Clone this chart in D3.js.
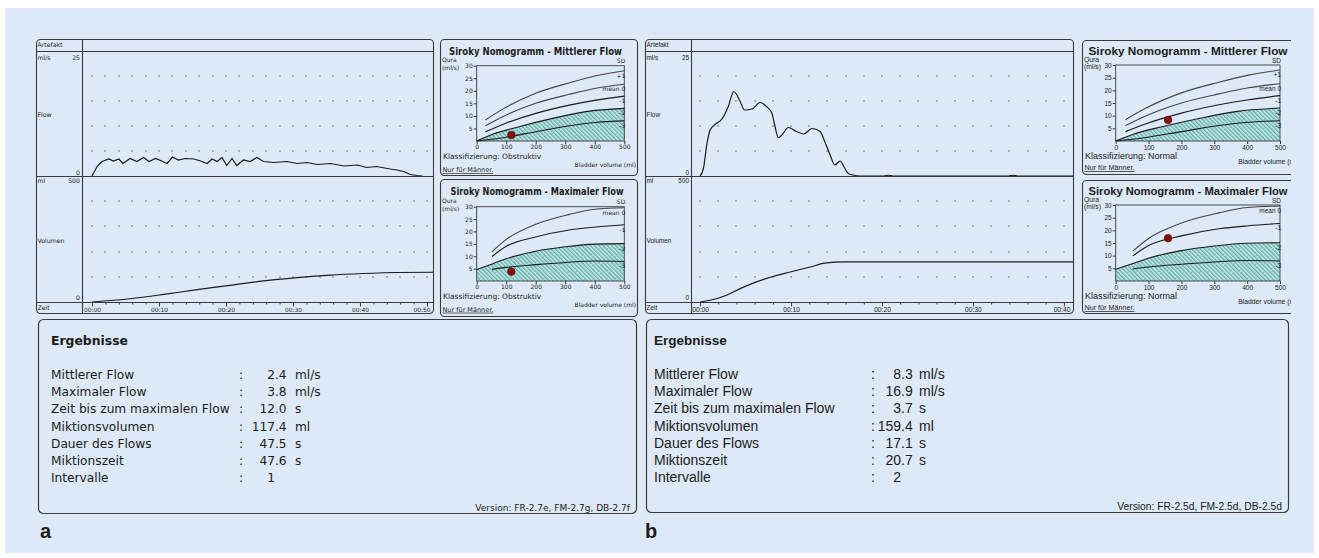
<!DOCTYPE html>
<html>
<head>
<meta charset="utf-8">
<script src="https://cdn.jsdelivr.net/npm/d3@7"></script>
<style>
body { margin: 0; background: #fff; }
</style>
</head>
<body>
<svg id="chart"></svg>
<script>
// ---- data ----
// uroflow curves [time s, flow ml/s] and [time s, volume ml]
const flowA = [[0,0],[0.75,1.9],[1.5,2.9],[2.5,3.4],[3.2,3.0],[4.0,3.4],[4.6,2.5],[5.7,3.5],[6.7,2.9],[7.7,3.7],[8.5,2.9],[9.5,3.5],[10.4,3.0],[11.2,2.5],[12.0,3.8],[12.9,3.2],[13.9,3.5],[15.2,3.4],[16.2,3.0],[17.2,2.5],[17.9,3.4],[18.7,2.9],[19.4,3.7],[20.1,2.1],[20.9,3.5],[21.6,2.1],[22.6,3.2],[23.6,2.9],[24.6,3.7],[25.6,2.9],[27.1,2.7],[29.1,2.9],[30.6,2.5],[32.1,2.7],[33.6,2.3],[35.6,2.5],[37.6,2.0],[39.6,2.2],[41.0,1.7],[42.5,1.9],[44.5,1.4],[45.5,1.2],[46.5,0.9],[47.5,0.3],[48.5,0.1],[49.3,0]];
const volA = [[0,0],[5.7,13],[10.7,30],[15.7,49],[20.6,66],[25.6,84],[30.6,97],[35.6,107],[40.5,113],[45.5,117],[50.9,118]];
const flowB = [[0,0],[0.37,1.5],[0.73,6.2],[1.1,9.2],[1.65,10.3],[2.4,11.4],[3.1,13.9],[3.7,16.9],[4.4,14.9],[4.9,13.2],[5.7,13.4],[6.6,14.7],[7.3,13.9],[7.9,12.5],[8.2,10.2],[8.6,7.7],[9.0,8.2],[9.7,9.7],[10.6,8.9],[11.4,8.4],[12.3,9.5],[13.2,8.9],[13.7,6.9],[14.3,4.2],[14.8,2.2],[15.4,3.0],[15.8,1.9],[16.3,0.5],[16.8,0.2],[17.6,0],[20.2,0],[20.7,0.15],[21.2,0],[33.9,0],[34.4,0.15],[34.9,0],[41,0]];
const volB = [[0,0],[1.1,7],[2.9,27],[4.4,53],[6.2,80],[8.1,102],[9.9,119],[12.1,139],[13.9,155],[15.8,159],[20,159.4],[41,159.4]];

const flowGridVals = [5, 10, 15, 20];
const volGridVals = [100, 200, 300, 400];

// Siroky nomogram curves [bladder volume ml, Qura ml/s]
const avgPlus1 = [[30,8.4],[88,12.7],[200,19.0],[314,23.2],[404,26.0],[500,28.0]];
const avgMean = [[30,6.1],[88,9.7],[200,15.0],[314,18.6],[404,21.0],[500,22.6]];
const avgMinus1 = [[30,3.7],[88,6.6],[200,11.0],[314,14.3],[404,16.3],[500,17.9]];
const avgMinus2 = [[0,0],[54,2.7],[144,5.7],[257,9.0],[370,11.7],[500,13.0]];
const avgMinus3 = [[0,0],[88,1.3],[200,3.7],[314,6.1],[404,7.4],[500,8.0]];
const avgCurveLabels = ["+1", "mean 0", "-1", "-2", "-3"];

const maxMean = [[52,11.8],[100,16.8],[200,22.9],[314,26.9],[400,29.0],[500,29.6]];
const maxMinus1 = [[52,9.9],[100,14.0],[200,17.8],[314,20.6],[404,21.8],[500,22.7]];
const maxMinus2 = [[0,4.6],[55,7.0],[100,9.0],[200,12.0],[300,13.8],[400,14.9],[500,15.1]];
const maxMinus3 = [[52,4.7],[100,5.5],[200,6.6],[300,7.5],[400,8.1],[500,7.9]];
const maxCurveLabels = ["mean 0", "-1", "-2", "-3"];

const nomoVolTicks = [0, 100, 200, 300, 400, 500];
const nomoFlowTicks = [5, 10, 15, 20, 25, 30];

// patient points [volume, flow]
const avgPointA = [117.4, 2.4], maxPointA = [117.4, 3.8];
const avgPointB = [159.4, 8.3], maxPointB = [159.4, 16.9];

const resultLabels = ["Mittlerer Flow", "Maximaler Flow", "Zeit bis zum maximalen Flow", "Miktionsvolumen", "Dauer des Flows", "Miktionszeit", "Intervalle"];
const resultUnits = ["ml/s", "ml/s", "s", "ml", "s", "s", ""];
const resultValuesA = ["2.4", "3.8", "12.0", "117.4", "47.5", "47.6", "1"];
const resultValuesB = ["8.3", "16.9", "3.7", "159.4", "17.1", "20.7", "2"];

// ---- drawing ----
const W = 1319, H = 558;
const INK = "#1c1c1c", LINE = "#3a3a3a";
const FONT_A = "'DejaVu Sans', Verdana, sans-serif";
const FONT_B = "'Liberation Sans', Arial, sans-serif";

const svg = d3.select("#chart").attr("width", W).attr("height", H);
svg.append("rect").attr("x", 5).attr("y", 8).attr("width", 1309).attr("height", 545).attr("fill", "#dde9f6");

const defs = svg.append("defs");
const pat = defs.append("pattern").attr("id", "hatch")
    .attr("patternUnits", "userSpaceOnUse").attr("width", 3).attr("height", 3)
    .attr("patternTransform", "rotate(-45)");
pat.append("rect").attr("width", 3).attr("height", 3).attr("fill", "#cbe9e8");
pat.append("line").attr("x1", 0.8).attr("y1", 0).attr("x2", 0.8).attr("y2", 3)
    .attr("stroke", "#429d9c").attr("stroke-width", 1.1);
defs.append("clipPath").attr("id", "clipRight")
    .append("rect").attr("x", 0).attr("y", 0).attr("width", 1291).attr("height", H);

function txt(g, x, y, s, font, size, anchor, bold) {
    const t = g.append("text").attr("x", x).attr("y", y).text(s)
        .attr("font-family", font).attr("font-size", size).attr("fill", INK);
    if (anchor) t.attr("text-anchor", anchor);
    if (bold) t.attr("font-weight", "bold");
    return t;
}

function drawMain(c) {
    const g = svg.append("g");
    const x = d3.scaleLinear().domain(c.tDomain).range([c.sepX, c.right]);
    const yF = d3.scaleLinear().domain([0, 25]).range([c.flowBottom, c.headerBottom]);
    const yV = d3.scaleLinear().domain([0, 500]).range([c.volBottom, c.flowBottom]);
    const gridT = d3.range(0, c.tMax + 0.001, 2);

    // dotted grid
    [[flowGridVals, yF], [volGridVals, yV]].forEach(function (pair) {
        pair[0].forEach(function (v) {
            g.selectAll(null).data(gridT).enter().append("rect")
                .attr("x", t => Math.round(x(t)) - 0.6)
                .attr("y", Math.round(pair[1](v)) - 0.6)
                .attr("width", 1.2).attr("height", 1.2)
                .attr("fill", "#4a4a4a");
        });
    });

    // curves
    g.append("path").datum(c.flow)
        .attr("d", d3.line().x(d => x(d[0])).y(d => yF(d[1])).curve(c.flowCurve))
        .attr("fill", "none").attr("stroke", "#1a1a1a").attr("stroke-width", 1.2);
    g.append("path").datum(c.vol)
        .attr("d", d3.line().x(d => x(d[0])).y(d => yV(d[1])).curve(d3.curveMonotoneX))
        .attr("fill", "none").attr("stroke", "#1a1a1a").attr("stroke-width", 1.2);

    // frame
    g.append("rect").attr("x", c.left + 0.5).attr("y", c.top + 0.5)
        .attr("width", c.right - c.left).attr("height", c.bottom - c.top).attr("rx", 4)
        .attr("fill", "none").attr("stroke", LINE).attr("stroke-width", 1.1);
    [c.headerBottom, c.flowBottom, c.volBottom].forEach(function (yy) {
        g.append("line").attr("x1", c.left + 0.5).attr("x2", c.right + 0.5)
            .attr("y1", yy + 0.5).attr("y2", yy + 0.5).attr("stroke", LINE).attr("stroke-width", 1.1);
    });
    g.append("line").attr("x1", c.sepX + 0.5).attr("x2", c.sepX + 0.5)
        .attr("y1", c.top + 0.5).attr("y2", c.bottom + 0.5).attr("stroke", LINE).attr("stroke-width", 1.1);

    // time axis
    const pad = d3.format("02");
    const axis = g.append("g").attr("transform", "translate(0," + (c.volBottom + 0.5) + ")")
        .call(d3.axisBottom(x).tickValues(gridT).tickSize(2)
            .tickFormat(d => d % 10 === 0 ? "00:" + pad(d) : ""));
    axis.select(".domain").remove();
    axis.attr("font-family", c.font).attr("font-size", c.timeSize);
    axis.selectAll(".tick line").attr("stroke", LINE).attr("y2", d => d % 10 === 0 ? 4 : 2);
    axis.selectAll(".tick text").attr("fill", INK).attr("dy", 0).attr("y", 9.5)
        .attr("x", d => Math.min(0, (c.right - 11.5) - x(d)));

    // left column labels
    const lx = c.left + 1.5, rx = c.sepX - 2;
    txt(g, lx, c.headerBottom - 4, "Artefakt", c.font, c.labelSize);
    txt(g, lx, c.headerBottom + 8.5, "ml/s", c.font, c.labelSize);
    txt(g, rx, c.headerBottom + 8.5, "25", c.font, c.labelSize, "end");
    txt(g, lx, (c.headerBottom + c.flowBottom) / 2 + 3, "Flow", c.font, c.labelSize);
    txt(g, rx, c.flowBottom - 1.5, "0", c.font, c.labelSize, "end");
    txt(g, lx, c.flowBottom + 7, "ml", c.font, c.labelSize);
    txt(g, rx, c.flowBottom + 7, "500", c.font, c.labelSize, "end");
    txt(g, lx, (c.flowBottom + c.volBottom) / 2 + 3.5, "Volumen", c.font, c.labelSize);
    txt(g, rx, c.volBottom - 2, "0", c.font, c.labelSize, "end");
    txt(g, lx, c.volBottom + 7.5, "Zeit", c.font, c.labelSize);
}

function drawNomo(c) {
    const g = svg.append("g");
    if (c.clip) g.attr("clip-path", "url(#clipRight)");
    g.append("rect").attr("x", c.bx0 + 0.5).attr("y", c.by0 + 0.5)
        .attr("width", c.bx1 - c.bx0).attr("height", c.by1 - c.by0).attr("rx", 4)
        .attr("fill", "none").attr("stroke", LINE).attr("stroke-width", 1.1);

    const x = d3.scaleLinear().domain([0, 500]).range([c.px0, c.px1]);
    const y = d3.scaleLinear().domain([0, 30]).range([c.py0, c.py1]);
    const line = d3.line().x(d => x(d[0])).y(d => y(d[1])).curve(d3.curveMonotoneX);

    // hatched obstruction zone under the -2 SD curve
    g.append("path").datum(c.hatch)
        .attr("d", d3.area().x(d => x(d[0])).y0(y(0)).y1(d => y(d[1])).curve(d3.curveMonotoneX))
        .attr("fill", "url(#hatch)");

    g.append("rect").attr("x", c.px0).attr("y", c.py1)
        .attr("width", c.px1 - c.px0).attr("height", c.py0 - c.py1)
        .attr("fill", "none").attr("stroke", LINE).attr("stroke-width", 0.9);

    c.curves.forEach(function (pts, i) {
        g.append("path").datum(pts).attr("d", line)
            .attr("fill", "none").attr("stroke", i < c.curves.length - 3 ? "#444" : "#1a1a1a")
            .attr("stroke-width", 1.1);
        const last = pts[pts.length - 1];
        txt(g, c.px1 + 1, y(last[1]) + 7, c.labels[i], c.font, c.tickSize, "end");
    });

    const xa = g.append("g").attr("transform", "translate(0," + c.py0 + ")")
        .call(d3.axisBottom(x).tickValues(nomoVolTicks).tickSize(3).tickPadding(1));
    const ya = g.append("g").attr("transform", "translate(" + c.px0 + ",0)")
        .call(d3.axisLeft(y).tickValues(nomoFlowTicks).tickSize(3).tickPadding(1));
    [xa, ya].forEach(function (a) {
        a.select(".domain").remove();
        a.attr("font-family", c.font).attr("font-size", c.tickSize);
        a.selectAll("line").attr("stroke", LINE);
        a.selectAll("text").attr("fill", INK);
    });

    g.append("circle").attr("cx", x(c.point[0])).attr("cy", y(c.point[1])).attr("r", 3.8)
        .attr("fill", "#8c0c0c").attr("stroke", "#4a0000").attr("stroke-width", 0.6);

    txt(g, c.titleX, c.by0 + c.titleDy, c.title, c.font, c.titleSize, "middle", true)
        .attr("textLength", c.titleLen).attr("lengthAdjust", "spacingAndGlyphs");
    txt(g, c.bx0 + 2, c.py1 - 3.3, "Qura", c.font, c.smallSize);
    txt(g, c.bx0 + 2, c.py1 + 3.8, "(ml/s)", c.font, c.smallSize);
    txt(g, c.px1 + 1, c.py1 - 2.5, "SD", c.font, c.tickSize, "end");
    txt(g, c.bx0 + 3, c.py0 + 17.5, "Klassifizierung: " + c.klass, c.font, c.klassSize);
    txt(g, c.bx1 - 1, c.py0 + c.bladderDy, "Bladder volume (ml)", c.font, c.smallSize, "end");
    txt(g, c.bx0 + 2.5, c.py0 + c.nurDy, "Nur für Männer.", c.font, c.nurSize)
        .attr("text-decoration", "underline");
}

function drawResults(c) {
    const g = svg.append("g");
    g.append("rect").attr("x", c.x0 + 0.5).attr("y", c.y0 + 0.5)
        .attr("width", c.x1 - c.x0).attr("height", c.y1 - c.y0).attr("rx", 5)
        .attr("fill", "none").attr("stroke", LINE).attr("stroke-width", 1.2);
    txt(g, c.labelX, 345, "Ergebnisse", c.font, c.headSize, null, true);
    resultLabels.forEach(function (lab, i) {
        const yy = 379 + i * 17.2;
        const v = c.values[i].split(".");
        txt(g, c.labelX, yy, lab, c.font, c.size);
        txt(g, c.colonX, yy, ":", c.font, c.size);
        txt(g, c.decX, yy, v[0], c.font, c.size, "end");
        if (v.length > 1) txt(g, c.decX, yy, "." + v[1], c.font, c.size);
        txt(g, c.unitX, yy, resultUnits[i], c.font, c.size);
    });
    txt(g, c.x1 - 6, c.y1 - 2.5, c.version, c.font, c.versionSize, "end");
}

// panel a
drawMain({left: 36, right: 433, top: 39, headerBottom: 51, flowBottom: 176, volBottom: 302, bottom: 313,
    sepX: 82, tDomain: [-1.5, 50.9], tMax: 50, flow: flowA, vol: volA, flowCurve: d3.curveLinear,
    font: FONT_A, labelSize: 6.2, timeSize: 5.9});
drawNomo({bx0: 440, bx1: 637, by0: 39, by1: 175, px0: 476.7, px1: 624.3, py0: 141, py1: 65.7,
    curves: [avgPlus1, avgMean, avgMinus1, avgMinus2, avgMinus3], labels: avgCurveLabels, hatch: avgMinus2,
    point: avgPointA, title: "Siroky Nomogramm - Mittlerer Flow", titleX: 535.5, titleDy: 16.2, titleLen: 173, titleSize: 10,
    klass: "Obstruktiv", font: FONT_A, tickSize: 6, smallSize: 6, klassSize: 7.5, nurSize: 6.5,
    bladderDy: 25.7, nurDy: 31.3});
drawNomo({bx0: 440, bx1: 637, by0: 179, by1: 316, px0: 476.7, px1: 624.3, py0: 281, py1: 206.7,
    curves: [maxMean, maxMinus1, maxMinus2, maxMinus3], labels: maxCurveLabels, hatch: maxMinus2,
    point: maxPointA, title: "Siroky Nomogramm - Maximaler Flow", titleX: 537, titleDy: 16.2, titleLen: 173, titleSize: 10,
    klass: "Obstruktiv", font: FONT_A, tickSize: 6, smallSize: 6, klassSize: 7.5, nurSize: 6.5,
    bladderDy: 25.7, nurDy: 30.7});
drawResults({x0: 38, x1: 636, y0: 319, y1: 513, labelX: 51, colonX: 239, decX: 275, unitX: 295,
    values: resultValuesA, font: FONT_A, size: 12.2, headSize: 12.4,
    version: "Version: FR-2.7e, FM-2.7g, DB-2.7f", versionSize: 9});

// panel b
drawMain({left: 645, right: 1073, top: 39, headerBottom: 51, flowBottom: 176, volBottom: 302, bottom: 313,
    sepX: 691, tDomain: [-1, 41], tMax: 40, flow: flowB, vol: volB, flowCurve: d3.curveMonotoneX,
    font: FONT_B, labelSize: 6.4, timeSize: 6.7});
drawNomo({bx0: 1082, bx1: 1300, by0: 40, by1: 174, px0: 1115.7, px1: 1280, py0: 141, py1: 65,
    curves: [avgPlus1, avgMean, avgMinus1, avgMinus2, avgMinus3], labels: avgCurveLabels, hatch: avgMinus2,
    point: avgPointB, title: "Siroky Nomogramm - Mittlerer Flow", titleX: 1188, titleDy: 14.8, titleLen: 199, titleSize: 11,
    klass: "Normal", font: FONT_B, tickSize: 6.5, smallSize: 6.8, klassSize: 9, nurSize: 7.2,
    bladderDy: 23.3, nurDy: 29, clip: true});
drawNomo({bx0: 1082, bx1: 1300, by0: 180, by1: 313, px0: 1115.7, px1: 1280, py0: 281, py1: 205,
    curves: [maxMean, maxMinus1, maxMinus2, maxMinus3], labels: maxCurveLabels, hatch: maxMinus2,
    point: maxPointB, title: "Siroky Nomogramm - Maximaler Flow", titleX: 1188, titleDy: 14.8, titleLen: 199, titleSize: 11,
    klass: "Normal", font: FONT_B, tickSize: 6.5, smallSize: 6.8, klassSize: 9, nurSize: 7.2,
    bladderDy: 23.3, nurDy: 29, clip: true});
drawResults({x0: 646, x1: 1288, y0: 319, y1: 512, labelX: 654, colonX: 871, decX: 901, unitX: 919,
    values: resultValuesB, font: FONT_B, size: 14, headSize: 13.5,
    version: "Version: FR-2.5d, FM-2.5d, DB-2.5d", versionSize: 10.3});

// figure part labels
txt(svg, 40, 538, "a", FONT_B, 20, null, true);
txt(svg, 645, 538, "b", FONT_B, 20, null, true);
</script>
</body>
</html>
